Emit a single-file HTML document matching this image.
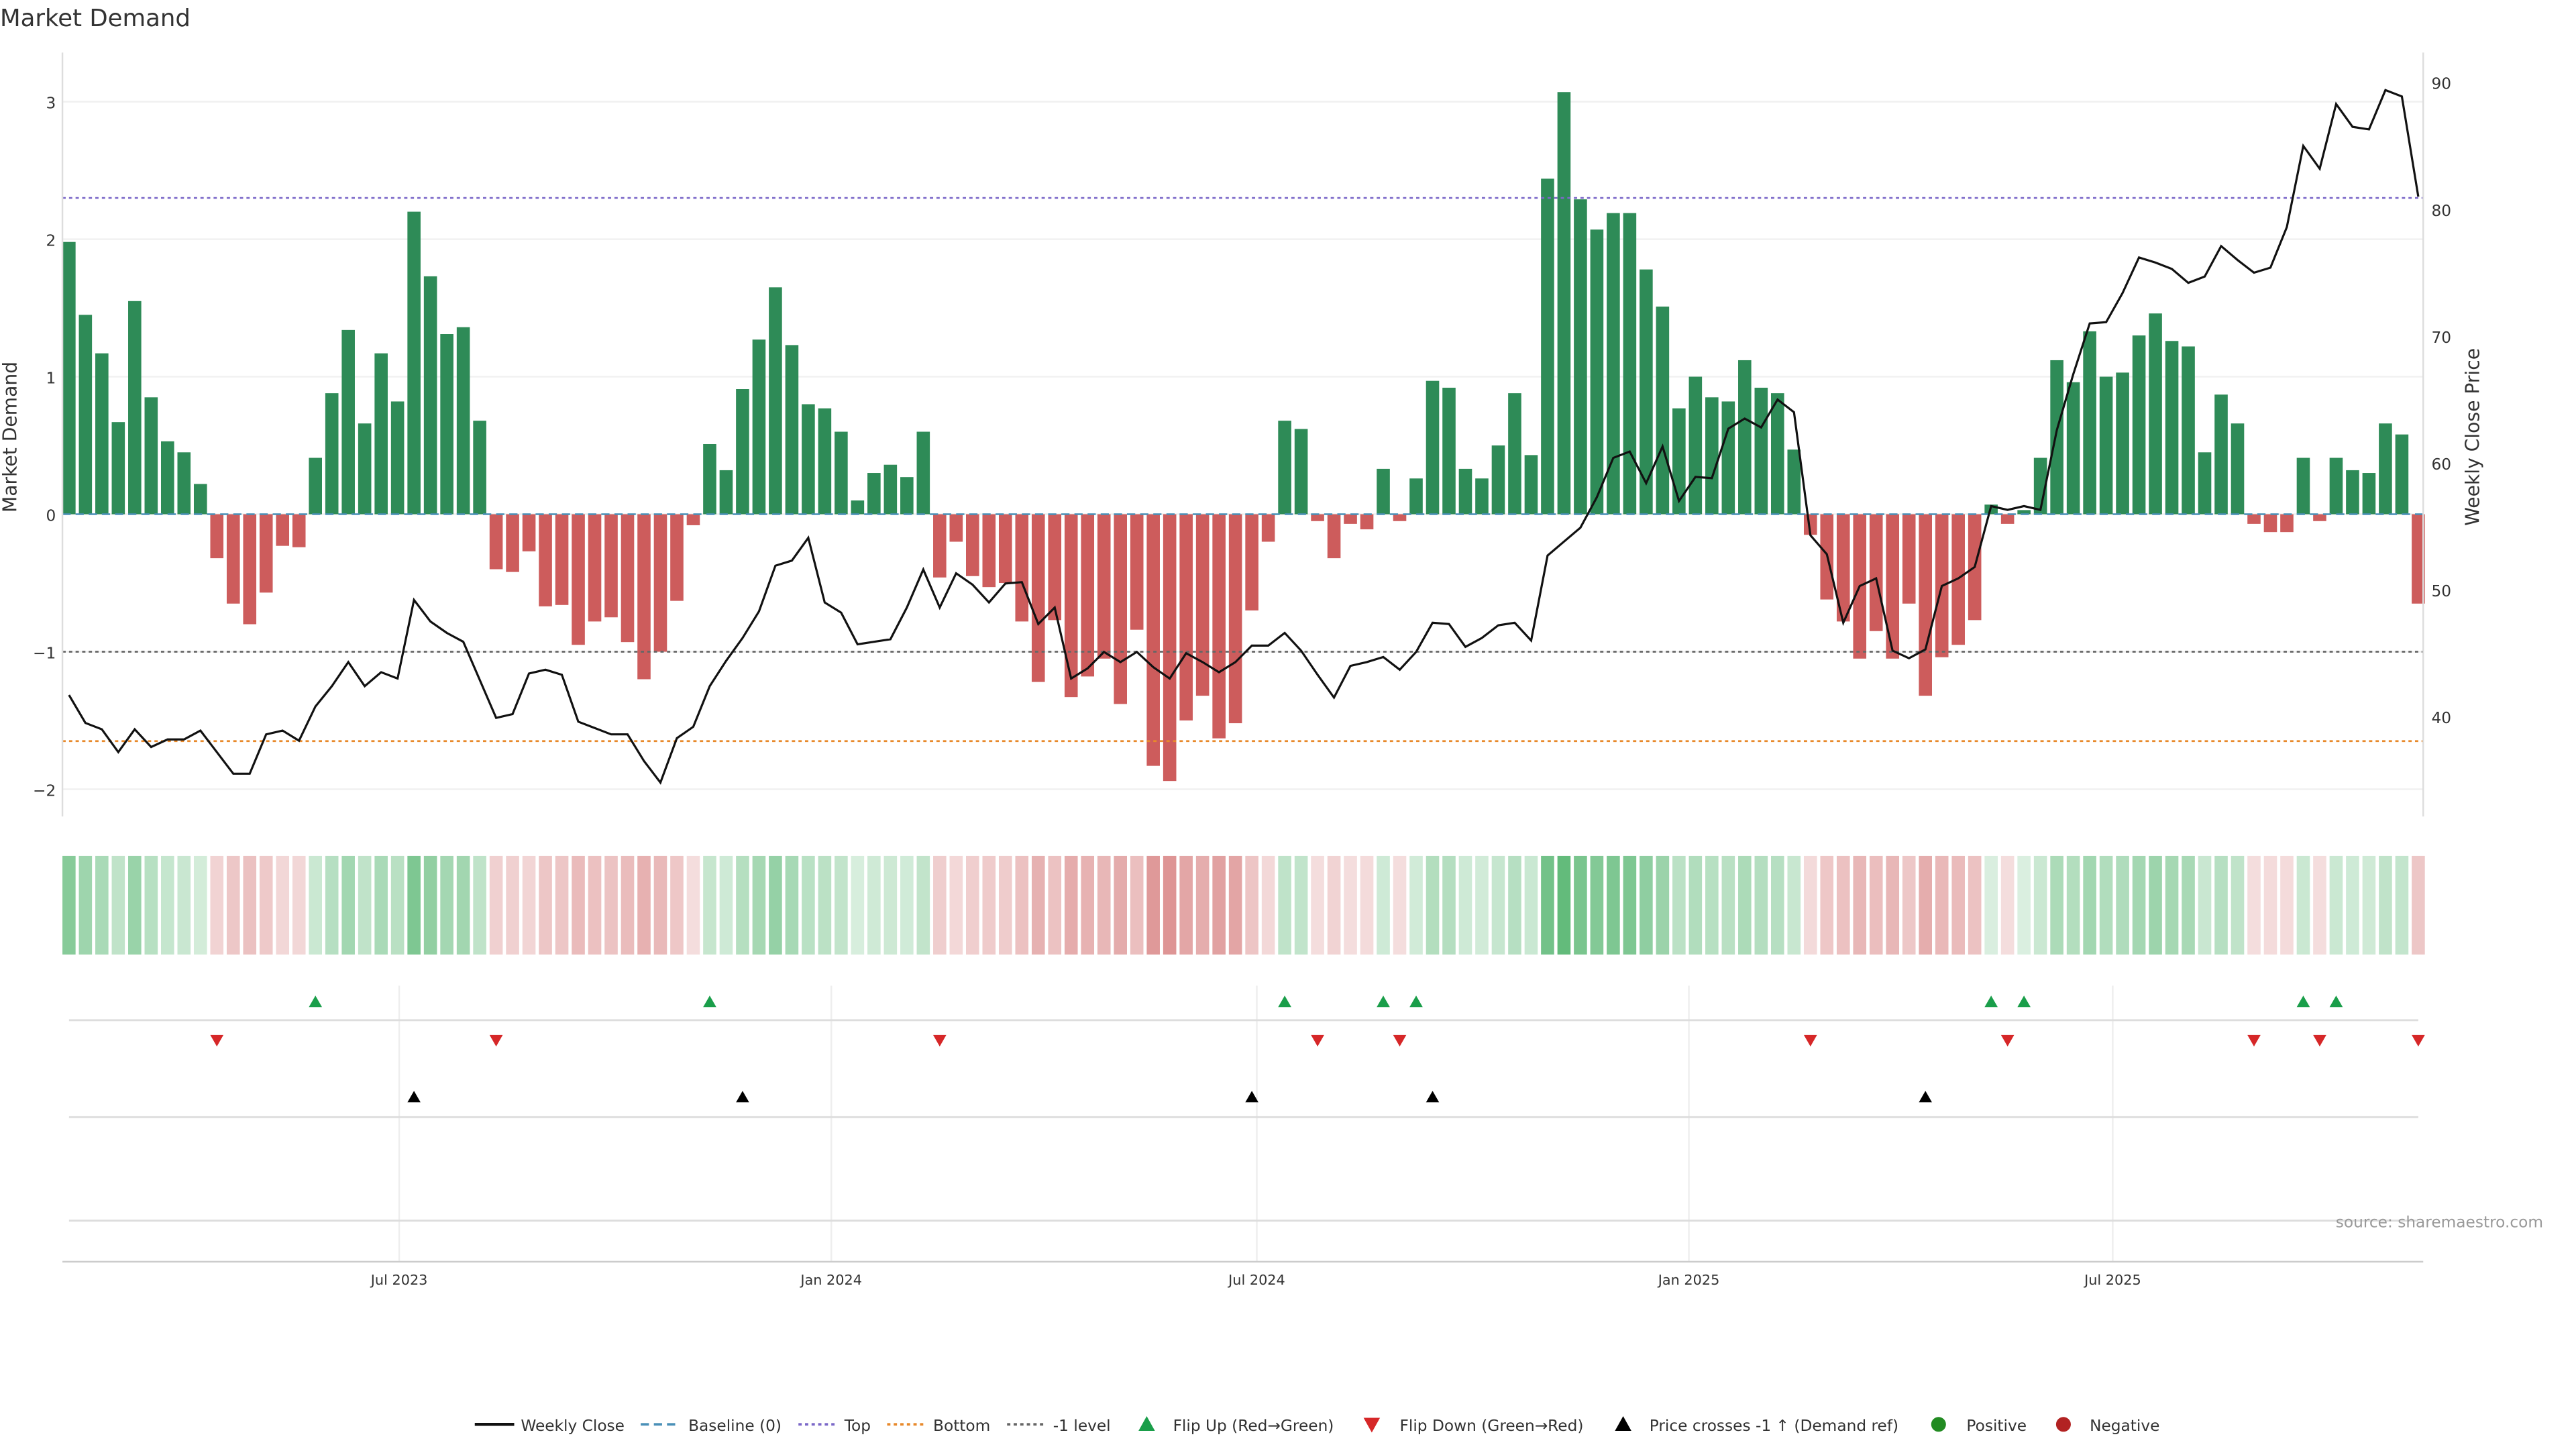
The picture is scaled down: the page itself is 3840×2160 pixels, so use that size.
<!DOCTYPE html>
<html><head><meta charset="utf-8"><style>
html,body{margin:0;padding:0;background:#fff;}
svg{display:block;font-family:"DejaVu Sans","Liberation Sans",sans-serif;}
</style></head><body>
<svg id="chart" width="3840" height="2160" viewBox="0 0 1568 882" xmlns="http://www.w3.org/2000/svg">
<text x="0" y="16" font-size="14.5" fill="#333">Market Demand</text>
<g id="grid"></g><g id="bars"></g><g id="lines"></g><g id="heat"></g><g id="markers"></g><g id="axes"></g>
<text x="1548" y="747" font-size="9.5" fill="#999" text-anchor="end">source: sharemaestro.com</text>
<g id="legend"></g>
</svg>
<script>
const demand=[1.98,1.45,1.17,0.67,1.55,0.85,0.53,0.45,0.22,-0.32,-0.65,-0.8,-0.57,-0.23,-0.24,0.41,0.88,1.34,0.66,1.17,0.82,2.2,1.73,1.31,1.36,0.68,-0.4,-0.42,-0.27,-0.67,-0.66,-0.95,-0.78,-0.75,-0.93,-1.2,-1.0,-0.63,-0.08,0.51,0.32,0.91,1.27,1.65,1.23,0.8,0.77,0.6,0.1,0.3,0.36,0.27,0.6,-0.46,-0.2,-0.45,-0.53,-0.5,-0.78,-1.22,-0.77,-1.33,-1.18,-1.05,-1.38,-0.84,-1.83,-1.94,-1.5,-1.32,-1.63,-1.52,-0.7,-0.2,0.68,0.62,-0.05,-0.32,-0.07,-0.11,0.33,-0.05,0.26,0.97,0.92,0.33,0.26,0.5,0.88,0.43,2.44,3.07,2.29,2.07,2.19,2.19,1.78,1.51,0.77,1.0,0.85,0.82,1.12,0.92,0.88,0.47,-0.15,-0.62,-0.78,-1.05,-0.85,-1.05,-0.65,-1.32,-1.04,-0.95,-0.77,0.07,-0.07,0.03,0.41,1.12,0.96,1.33,1.0,1.03,1.3,1.46,1.26,1.22,0.45,0.87,0.66,-0.07,-0.13,-0.13,0.41,-0.05,0.41,0.32,0.3,0.66,0.58,-0.65];
const price=[41.7,39.5,39,37.2,39,37.6,38.2,38.2,38.9,37.2,35.5,35.5,38.6,38.9,38.1,40.8,42.4,44.3,42.4,43.5,43,49.2,47.5,46.6,45.9,42.9,39.9,40.2,43.4,43.7,43.3,39.6,39.1,38.6,38.6,36.5,34.8,38.3,39.2,42.4,44.4,46.2,48.3,51.9,52.3,54.1,49,48.2,45.7,45.9,46.1,48.6,51.6,48.6,51.3,50.4,49,50.5,50.6,47.3,48.6,43,43.8,45.1,44.3,45.1,43.9,43,45,44.3,43.5,44.3,45.6,45.6,46.6,45.2,43.3,41.5,44,44.3,44.7,43.7,45.1,47.4,47.3,45.5,46.2,47.2,47.4,46,52.7,53.8,54.9,57.3,60.4,60.9,58.4,61.3,57,58.9,58.8,62.7,63.5,62.8,65,64,54.3,52.8,47.4,50.3,50.9,45.2,44.6,45.3,50.3,50.9,51.8,56.6,56.3,56.6,56.3,62.6,67,71,71.1,73.4,76.2,75.8,75.3,74.2,74.7,77.1,76,75,75.4,78.6,85,83.2,88.3,86.5,86.3,89.4,88.9,81];
const crossIdx=[21,41,72,83,113];
const leftTicks=[-2,-1,0,1,2,3];
const rightTicks=[40,50,60,70,80,90];
const monthLabels=["Jul 2023","Jan 2024","Jul 2024","Jan 2025","Jul 2025"];
const monthIdx=[20.1,46.4,72.3,98.6,124.4];
const levels={top:2.3,bottom:-1.65,minus1:-1};
const NS="http://www.w3.org/2000/svg";
function el(tag,attrs,parent,text){const e=document.createElementNS(NS,tag);for(const k in attrs)e.setAttribute(k,attrs[k]);if(text!==undefined)e.textContent=text;parent.appendChild(e);return e;}
const X=i=>42+10*i, Y=v=>313-83.7*v, YP=p=>359-(p-50)*7.72;
const G=id=>document.getElementById(id);
const grid=G('grid'),bars=G('bars'),lines=G('lines'),heat=G('heat'),mk=G('markers'),axes=G('axes');
leftTicks.forEach(t=>{const l=el('line',{x1:38,x2:1475,y1:Y(t),y2:Y(t),stroke:'#f0f0f0','stroke-width':1},grid);


const tx=el('text',{x:34,y:Y(t)+4,'font-size':9.5,fill:'#333','text-anchor':'end'},axes,(t<0?'\u2212'+(-t):t));

});
rightTicks.forEach(t=>{const tx=el('text',{x:1480,y:YP(t)+4,'font-size':9.5,fill:'#333'},axes,t);

});
monthIdx.forEach((m,k)=>{const x=X(m);
const g1=el('line',{x1:x,x2:x,y1:600,y2:768,stroke:'#eee','stroke-width':1},grid);


const tx=el('text',{x:x,y:782,'font-size':8.5,fill:'#333','text-anchor':'middle'},axes,monthLabels[k]);

});
[[621,'flip-row-baseline'],[680,'cross-row-baseline'],[743,'empty-row-baseline']].forEach(r=>{const l=el('line',{x1:42,x2:1472,y1:r[0],y2:r[0],stroke:'#ddd','stroke-width':1.2},grid);

});
const ax=el('line',{x1:38,x2:1475,y1:768,y2:768,stroke:'#ccc','stroke-width':1},axes);


const la=el('line',{x1:38,x2:38,y1:32,y2:497,stroke:'#ddd','stroke-width':1},axes);


const ra=el('line',{x1:1475,x2:1475,y1:32,y2:497,stroke:'#ddd','stroke-width':1},axes);


const yl=el('text',{x:10,y:266,'font-size':11.5,fill:'#333','text-anchor':'middle',transform:'rotate(-90 10 266)'},axes,'Market Demand');


const yr=el('text',{x:1509,y:266,'font-size':11.5,fill:'#333','text-anchor':'middle',transform:'rotate(-90 1509 266)'},axes,'Weekly Close Price');


demand.forEach((v,i)=>{const pos=v>=0;
const b=el('rect',{x:X(i)-4,y:Math.min(Y(v),Y(0)),width:8,height:Math.abs(Y(v)-Y(0)),fill:pos?'#2e8b57':'#cd5c5c'},bars);


const a=Math.min(0.8,0.18+0.22*Math.abs(v));
const c=el('rect',{x:X(i)-4,y:521,width:8,height:60,fill:pos?'rgb(60,170,90)':'rgb(200,80,80)','fill-opacity':a},heat);


if(i>0){const p=demand[i-1];
if(p<0&&v>=0){const t=el('path',{d:`M${X(i)-4},${613}L${X(i)+4},${613}L${X(i)},${606}Z`,fill:'#1a9e4a'},mk);

}
if(p>=0&&v<0){const t=el('path',{d:`M${X(i)-4},${630}L${X(i)+4},${630}L${X(i)},${637}Z`,fill:'#d62728'},mk);

}}});
crossIdx.forEach(i=>{const t=el('path',{d:`M${X(i)-4},${671}L${X(i)+4},${671}L${X(i)},${664}Z`,fill:'#000'},mk);

});
const bl=el('line',{x1:38,x2:1475,y1:Y(0),y2:Y(0),stroke:'#4a90b8','stroke-width':1,'stroke-dasharray':'5,3'},lines);


[[levels.top,'#7b68c8','top-line'],[levels.bottom,'#e8892b','bottom-line'],[levels.minus1,'#666','minus-one-line']].forEach(l=>{const ln=el('line',{x1:38,x2:1475,y1:Y(l[0]),y2:Y(l[0]),stroke:l[1],'stroke-width':1.1,'stroke-dasharray':'2,2'},lines);

});
const pl=el('polyline',{points:price.map((p,i)=>X(i)+','+YP(p)).join(' '),fill:'none',stroke:'#111','stroke-width':1.3},lines);


const lg=G('legend');const ly=867;
const items=[['line',289,'#111','',317,'Weekly Close'],['line',390,'#4a90b8','5,3',419,'Baseline (0)'],['line',486,'#7b68c8','2,2',514,'Top'],['line',540,'#e8892b','2,2',568,'Bottom'],['line',613,'#666','2,2',641,'-1 level'],['up',698,'#1a9e4a','',714,'Flip Up (Red\u2192Green)'],['down',835,'#d62728','',852,'Flip Down (Green\u2192Red)'],['up',988,'#000','',1004,'Price crosses -1 \u2191 (Demand ref)'],['dot',1180,'#228b22','',1197,'Positive'],['dot',1256,'#b22222','',1272,'Negative']];
items.forEach(it=>{const g=el('g',{},lg);


const x=it[1];
if(it[0]==='line')el('line',{x1:x,x2:x+24,y1:ly,y2:ly,stroke:it[2],'stroke-width':it[3]?1.5:1.8,'stroke-dasharray':it[3]||'none'},g);
else if(it[0]==='up')el('path',{d:`M${x-5},${ly+4}L${x+5},${ly+4}L${x},${ly-5}Z`,fill:it[2]},g);
else if(it[0]==='down')el('path',{d:`M${x-5},${ly-4}L${x+5},${ly-4}L${x},${ly+5}Z`,fill:it[2]},g);
else el('circle',{cx:x,cy:ly,r:4.5,fill:it[2]},g);
el('text',{x:it[4],y:ly+4,'font-size':9.5,fill:'#333'},g,it[5]);});
</script>
</body></html>
